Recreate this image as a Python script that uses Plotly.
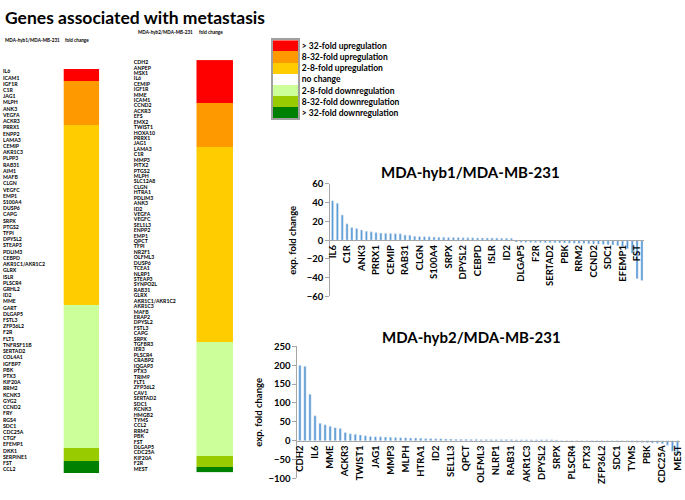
import plotly.graph_objects as go

# ---------------- data ----------------
hyb1_genes = ["IL6", "ICAM1", "IGF1R", "C1R", "JAG1", "MLPH", "ANK3", "VEGFA", "ACKR3", "PRRX1",
              "ENPP2", "LAMA3", "CEMIP", "AKR1C3", "PLPP3", "RAB31", "AIM1", "MAFB", "CLGN", "VEGFC",
              "EMP1", "S100A4", "DUSP6", "CAPG", "SRPX", "PTGS2", "TFPI", "DPYSL2", "STEAP3", "PDLIM3",
              "CEBPD", "AKR1C1/AKR1C2", "GLRX", "ISLR", "PLSCR4", "GRHL2", "ID2", "MME", "GART", "DLGAP5",
              "FSTL3", "ZFP36L2", "F2R", "FLT1", "TNFRSF11B", "SERTAD2", "COL4A1", "IGFBP7", "PBK", "PTX3",
              "KIF20A", "RRM2", "KCNK3", "GYG2", "CCND2", "FRY", "RGS4", "SDC1", "CDC25A", "CTGF",
              "EFEMP1", "DKK1", "SERPINE1", "FST", "CCL2"]
hyb1_values = [42, 39.5, 27, 17.5, 13.5, 12.5, 11, 9.5, 9, 8.3,
               7.6, 7.4, 7.2, 7.0, 6.9, 5.5, 5.3, 4.3, 4.0, 3.8,
               3.6, 3.4, 3.2, 3.1, 3.0, 2.9, 2.8, 2.7, 2.6, 2.6,
               2.5, 2.5, 2.4, 2.4, 2.3, 2.2, 2.2, 2.1, -2.0, -2.1,
               -2.2, -2.3, -2.4, -2.5, -2.6, -2.7, -2.8, -2.9, -3.0, -3.1,
               -3.2, -3.4, -3.6, -3.8, -4.0, -4.2, -4.5, -4.8, -5.2, -6.0,
               -7.0, -9.0, -14.0, -41.0, -43.0]
hyb1_class_counts = [2, 7, 29, 0, 23, 2, 2]

hyb2_genes = ["CDH2", "ANPEP", "MSX1", "IL6", "CEMIP", "IGF1R", "MME", "ICAM1", "CCND2", "ACKR3",
              "EFS", "EMX2", "TWIST1", "HOXA10", "PRRX1", "JAG1", "LAMA3", "C1R", "MMP3", "PITX2",
              "PTGS2", "MLPH", "SLC12A8", "CLGN", "HTRA1", "PDLIM3", "ANK3", "ID2", "VEGFA", "VEGFC",
              "SEL1L3", "ENPP2", "EMP1", "QPCT", "TFPI", "NR2F1", "OLFML3", "DUSP6", "TCEA1", "NLRP1",
              "STEAP3", "SYNPO2L", "RAB31", "GLRX", "AKR1C1/AKR1C2", "AKR1C3", "MAFB", "ERAP2", "DPYSL2", "FSTL3",
              "CAPG", "SRPX", "TGFBR3", "IER3", "PLSCR4", "CRABP2", "IQGAP3", "PTX3", "TRIM9", "FLT1",
              "ZFP36L2", "CAV1", "SERTAD2", "SDC1", "KCNK3", "HMGB2", "TYMS", "CCL2", "RRM2", "PBK",
              "FST", "DLGAP5", "CDC25A", "KIF20A", "F2R", "MEST"]
hyb2_values = [200, 197, 123, 66, 46, 42, 38, 34.5, 32, 21.6,
               18, 17, 15, 13, 11, 10.5, 10, 9.5, 9, 8.5,
               8, 7.5, 7, 7, 6.5, 6, 5.5, 5, 5, 4.5,
               4.2, 4.0, 3.8, 3.6, 3.5, 3.4, 3.3, 3.2, 3.1, 3.0,
               3.0, 2.9, 2.8, 2.7, 2.6, 2.5, 2.4, 2.3, 2.2, 2.1,
               2.1, 2.0, -2.0, -2.1, -2.2, -2.3, -2.4, -2.5, -2.6, -2.7,
               -2.8, -3.0, -3.2, -3.4, -3.6, -3.8, -4.0, -4.5, -5.0, -5.5,
               -6.5, -7.0, -8.0, -12.0, -28.0, -35.0]
hyb2_class_counts = [8, 8, 36, 0, 21, 2, 1]

class_labels = ["> 32-fold upregulation", "8-32-fold upregulation", "2-8-fold upregulation",
                "no change", "2-8-fold downregulation", "8-32-fold downregulation",
                "> 32-fold downregulation"]
class_colors = ["#FF0000", "#FF9900", "#FFCC00", "#FFFFFF", "#CCFF99", "#99CC00", "#008000"]

# ---------------- helpers ----------------
W, H = 685, 500
def px_x(a, b):
    return [a / W, b / W]
def px_y(top, bottom):
    return [(H - bottom) / H, (H - top) / H]

ncls = len(class_colors)
colorscale = []
for i, c in enumerate(class_colors):
    colorscale.append([i / ncls, c])
    colorscale.append([(i + 1) / ncls, c])

def codes_from_counts(counts):
    out = []
    for i, n in enumerate(counts):
        out += [i] * n
    return out

FONT = "Lato"
SMALL = "Liberation Sans Narrow, Lato"
BAR = "#5B9BD5"
AXC = "#A6A6A6"
small_font = dict(family=SMALL, size=5.2, color="black", weight="bold")
hdr_font = dict(family=SMALL, size=4.6, color="black", weight="bold")

fig = go.Figure()

# ---- bar charts ----
fig.add_trace(go.Bar(x=hyb1_genes, y=hyb1_values, marker_color=BAR, xaxis="x", yaxis="y",
                     showlegend=False))
fig.add_trace(go.Bar(x=hyb2_genes, y=hyb2_values, marker_color=BAR, xaxis="x2", yaxis="y2",
                     showlegend=False))

# ---- heatmaps ----
hyb1_codes = codes_from_counts(hyb1_class_counts)
hyb2_codes = codes_from_counts(hyb2_class_counts)
fig.add_trace(go.Heatmap(x=["fold change"], y=hyb1_genes, z=[[c] for c in hyb1_codes],
                         colorscale=colorscale, zmin=-0.5, zmax=ncls - 0.5, showscale=False,
                         xaxis="x3", yaxis="y3", hoverinfo="skip"))
fig.add_trace(go.Scatter(x=[0] * len(hyb1_genes), y=hyb1_genes, text=hyb1_genes, mode="text",
                         textposition="middle right", cliponaxis=False, textfont=small_font,
                         xaxis="x4", yaxis="y3", showlegend=False, hoverinfo="skip"))
fig.add_trace(go.Heatmap(x=["fold change"], y=hyb2_genes, z=[[c] for c in hyb2_codes],
                         colorscale=colorscale, zmin=-0.5, zmax=ncls - 0.5, showscale=False,
                         xaxis="x5", yaxis="y5", hoverinfo="skip"))
fig.add_trace(go.Scatter(x=[0] * len(hyb2_genes), y=hyb2_genes, text=hyb2_genes, mode="text",
                         textposition="middle right", cliponaxis=False, textfont=small_font,
                         xaxis="x6", yaxis="y5", showlegend=False, hoverinfo="skip"))
# legend key
fig.add_trace(go.Heatmap(x=["key"], y=class_labels, z=[[i] for i in range(ncls)],
                         colorscale=colorscale, zmin=-0.5, zmax=ncls - 0.5, showscale=False,
                         xaxis="x7", yaxis="y7", hoverinfo="skip"))

# ---- layout ----
tf_bold = dict(family=FONT, size=9.5, color="black", weight="bold")

top_dom = px_y(182, 297)
top_rng = [-60, 60]
bot_dom = px_y(348, 483)
bot_rng = [-100, 250]
def zero_pos(dom, rng):
    return dom[0] + (0 - rng[0]) / (rng[1] - rng[0]) * (dom[1] - dom[0])

hidden = dict(visible=False, showgrid=False, zeroline=False)

fig.update_layout(
    width=W, height=H, margin=dict(l=0, r=0, t=0, b=0),
    paper_bgcolor="white", plot_bgcolor="rgba(0,0,0,0)",
    font=dict(family=FONT, color="black"),
    bargap=0.55, showlegend=False,
    xaxis=dict(domain=px_x(330, 647), type="category", categoryorder="array",
               categoryarray=hyb1_genes, range=[-0.5, len(hyb1_genes) - 0.5],
               tickmode="array", tickvals=hyb1_genes[::3], ticktext=hyb1_genes[::3],
               tickangle=-90, tickfont=tf_bold, anchor="free",
               position=zero_pos(top_dom, top_rng), showline=True, linecolor=AXC,
               ticks="", showgrid=False, zeroline=False),
    yaxis=dict(domain=top_dom, range=top_rng, dtick=20, tickfont=tf_bold, anchor="x",
               showline=True, linecolor=AXC, ticks="outside", ticklen=4, tickcolor=AXC,
               showgrid=False, zeroline=False,
               title=dict(text="exp. fold change", font=tf_bold, standoff=8)),
    xaxis2=dict(domain=px_x(297, 683), type="category", categoryorder="array",
                categoryarray=hyb2_genes, range=[-0.5, len(hyb2_genes) - 0.5],
                tickmode="array", tickvals=hyb2_genes[::3], ticktext=hyb2_genes[::3],
                tickangle=-90, tickfont=tf_bold, anchor="free",
                position=zero_pos(bot_dom, bot_rng), showline=True, linecolor=AXC,
                ticks="", showgrid=False, zeroline=False),
    yaxis2=dict(domain=bot_dom, range=bot_rng, dtick=50, tickfont=tf_bold, anchor="x2",
                showline=True, linecolor=AXC, ticks="outside", ticklen=4, tickcolor=AXC,
                showgrid=False, zeroline=False,
                title=dict(text="exp. fold change", font=tf_bold, standoff=4)),
    xaxis3=dict(domain=px_x(61, 97), anchor="y3", **hidden),
    yaxis3=dict(domain=px_y(45, 497), anchor="x3", autorange="reversed", **hidden),
    xaxis4=dict(domain=px_x(0, 58), range=[0, 1], anchor="y3", **hidden),
    xaxis5=dict(domain=px_x(195, 232), anchor="y5", **hidden),
    yaxis5=dict(domain=px_y(35, 497), anchor="x5", autorange="reversed", **hidden),
    xaxis6=dict(domain=px_x(132, 192), range=[0, 1], anchor="y5", **hidden),
    xaxis7=dict(domain=px_x(272, 298), anchor="y7", showticklabels=False, ticks="",
                showline=True, mirror=True, linecolor="#A0A0A0", linewidth=1.5,
                showgrid=False, zeroline=False),
    yaxis7=dict(domain=px_y(35, 115), anchor="x7", autorange="reversed", side="right",
                showline=True, mirror=True, linecolor="#A0A0A0", linewidth=1.5, ticks="",
                tickfont=dict(family=FONT, size=8.5, color="black", weight="bold"),
                showgrid=False, zeroline=False),
)

ann = []
ann.append(dict(text="Genes associated with metastasis", x=0, y=1 - 12 / H, xref="paper", yref="paper",
                xanchor="left", yanchor="middle", showarrow=False,
                font=dict(family=FONT, size=17.5, color="black", weight="bold")))
ann.append(dict(text="MDA-hyb1/MDA-MB-231", x=0, y=1 - 35 / H, xref="paper", yref="paper",
                xanchor="left", yanchor="middle", showarrow=False, font=hdr_font))
ann.append(dict(text="fold change", x=61 / W, y=1 - 35 / H, xref="paper", yref="paper",
                xanchor="left", yanchor="middle", showarrow=False, font=hdr_font))
ann.append(dict(text="MDA-hyb2/MDA-MB-231", x=134 / W, y=1 - 27 / H, xref="paper", yref="paper",
                xanchor="left", yanchor="middle", showarrow=False, font=hdr_font))
ann.append(dict(text="fold change", x=196 / W, y=1 - 27 / H, xref="paper", yref="paper",
                xanchor="left", yanchor="middle", showarrow=False, font=hdr_font))
ttl = dict(family=FONT, size=15, color="black", weight="bold")
ann.append(dict(text="MDA-hyb1/MDA-MB-231", x=472 / W, y=1 - 170 / H, xref="paper", yref="paper",
                xanchor="center", yanchor="middle", showarrow=False, font=ttl))
ann.append(dict(text="MDA-hyb2/MDA-MB-231", x=473 / W, y=1 - 338 / H, xref="paper", yref="paper",
                xanchor="center", yanchor="middle", showarrow=False, font=ttl))
fig.update_layout(annotations=ann)

fig.write_html("out.html", config={"displayModeBar": False},
               post_script="document.body.style.margin='0';")
